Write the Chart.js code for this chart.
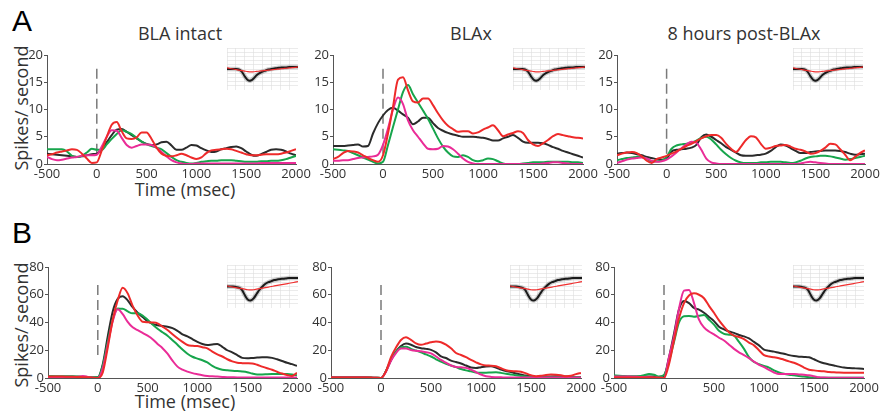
<!DOCTYPE html>
<html>
<head>
<meta charset="utf-8">
<script src="https://cdn.jsdelivr.net/npm/chart.js@4.4.1/dist/chart.umd.min.js"></script>
<style>
body { margin: 0; background: #fff; width: 881px; height: 411px; position: relative; overflow: hidden; font-family: "Open Sans", sans-serif; color: #333; }
canvas { position: absolute; }
.t { position: absolute; white-space: nowrap; line-height: 1; text-align: center; }
.letter { position: absolute; font: 30px "Liberation Sans", Arial, sans-serif; color: #000; line-height: 1; }
</style>
</head>
<body>
<div class="letter" style="left:12px;top:6px">A</div>
<div class="letter" style="left:12px;top:218px">B</div>

<div class="t" style="left:80px;top:24px;width:200px;font-size:18px">BLA intact</div>
<div class="t" style="left:371px;top:24px;width:200px;font-size:18px">BLAx</div>
<div class="t" style="left:644px;top:24px;width:200px;font-size:18px">8 hours post-BLAx</div>

<div class="t" style="left:-59px;top:99px;width:160px;height:18px;font-size:18px;transform:rotate(-90deg)">Spikes/ second</div>
<div class="t" style="left:-59px;top:316px;width:160px;height:18px;font-size:18px;transform:rotate(-90deg)">Spikes/ second</div>

<div class="t" style="left:85px;top:180px;width:200px;font-size:18px">Time (msec)</div>
<div class="t" style="left:85px;top:392px;width:200px;font-size:18px">Time (msec)</div>

<script>
// time bins (msec)
const times = [-500,-450,-400,-350,-300,-250,-200,-150,-100,-50,
  0,50,100,150,200,250,300,350,400,450,
  500,550,600,650,700,750,800,850,900,950,
  1000,1050,1100,1150,1200,1250,1300,1350,1400,1450,
  1500,1550,1600,1650,1700,1750,1800,1850,1900,1950,2000];

// A - BLA intact
const a1Black = [1.9,1.8,1.7,1.6,1.5,1.4,1.3,1.4,1.6,1.8, 1.9,2.8,4.0,5.3,6.3,6.4,5.9,5.3,4.7,4.1, 3.7,3.5,3.6,4.0,4.1,3.4,2.6,2.6,3.0,3.5, 3.4,2.9,2.5,2.2,2.3,2.7,2.9,3.1,3.2,2.9, 2.3,1.7,1.5,1.8,2.2,2.6,2.7,2.6,2.3,1.9, 1.6];
const a1Red = [1.6,1.8,2.1,2.3,2.5,2.7,2.6,1.9,1.0,0.2, 0.3,2.5,5.0,7.2,7.7,6.0,4.7,4.6,4.9,5.8, 5.8,4.6,3.0,1.9,1.5,1.4,1.6,1.9,1.6,1.2, 0.9,1.2,2.0,2.5,2.6,2.7,2.8,2.7,2.4,2.1, 1.8,1.6,1.6,1.7,1.8,1.8,1.8,1.9,2.1,2.4, 2.7];
const a1Green = [2.7,2.7,2.7,2.7,2.3,1.5,1.3,1.5,2.1,2.8, 2.6,2.6,3.6,4.6,5.5,6.2,5.9,5.5,4.8,4.1, 3.6,3.3,3.0,2.7,2.0,1.3,0.7,0.4,0.2,0.1, 0.2,0.4,0.5,0.6,0.6,0.7,0.7,0.7,0.6,0.5, 0.4,0.4,0.4,0.5,0.5,0.6,0.6,0.7,0.9,1.2, 1.5];
const a1Magenta = [1.3,0.9,0.7,0.8,1.0,1.2,1.3,1.5,1.6,1.6, 1.7,3.2,5.0,6.2,6.1,4.8,3.5,3.0,3.3,3.6, 3.6,3.5,3.0,2.2,1.4,0.7,0.3,0.1,0.0,0.0, 0.1,0.1,0.1,0.1,0.1,0.1,0.1,0.1,0.1,0.1, 0.1,0.1,0.1,0.2,0.2,0.2,0.2,0.2,0.2,0.2, 0.2];

// A - BLAx
const a2Black = [3.3,3.3,3.3,3.4,3.5,3.6,3.2,3.3,5.6,7.5, 8.9,9.9,10.3,9.8,9.1,8.5,7.3,7.8,8.5,8.5, 7.5,6.6,6.1,5.7,5.4,5.2,5.0,5.0,5.0,4.9, 4.8,4.6,4.3,4.3,4.7,5.0,5.3,4.8,4.1,3.9, 3.9,3.9,3.8,3.5,3.1,2.8,2.4,2.1,1.8,1.5, 1.2];
const a2Red = [0.9,1.3,2.0,2.4,2.3,2.1,1.6,1.1,0.7,0.4, 1.6,5.6,10.5,15.5,15.9,13.5,11.5,11.3,12.0,12.0, 10.8,9.3,8.0,7.0,6.4,5.9,6.0,6.0,5.6,5.8, 6.3,6.7,7.1,6.2,5.1,5.4,5.7,6.0,5.7,4.4, 3.6,3.3,3.8,4.4,5.1,5.5,5.3,5.1,4.9,4.8, 4.7];
const a2Green = [2.7,2.6,2.5,2.4,2.0,1.6,1.2,0.8,0.4,0.1, 0.4,3.5,6.8,10.0,13.2,14.5,12.8,11.3,9.8,8.3, 6.5,4.7,3.2,2.1,1.4,1.3,1.6,1.3,0.7,0.5, 0.7,1.0,0.9,0.5,0.1,0.0,0.0,0.0,0.1,0.2, 0.3,0.3,0.3,0.4,0.4,0.4,0.4,0.4,0.3,0.3, 0.2];
const a2Magenta = [0.6,0.6,0.7,0.7,0.9,1.1,1.2,1.3,1.4,1.7, 3.5,6.5,10.0,12.2,11.0,8.0,6.2,5.0,3.8,2.8, 2.7,2.8,3.3,3.2,2.7,1.9,1.0,0.4,0.1,0.0, 0.0,0.0,0.0,0.0,0.0,0.0,0.0,0.0,0.0,0.0, 0.0,0.0,0.1,0.2,0.3,0.3,0.2,0.1,0.0,0.0, 0.0];

// A - 8 hours post-BLAx
const a3Black = [1.9,2.0,2.1,2.0,1.8,1.6,1.3,1.1,0.9,0.8, 1.0,2.3,2.6,2.7,2.8,3.0,3.5,4.9,5.4,5.0, 4.4,3.8,3.1,2.6,2.1,1.6,1.5,1.5,1.6,1.7, 1.9,2.4,3.1,3.6,3.4,2.9,2.4,2.0,2.0,2.2, 2.3,2.4,2.5,2.5,2.5,2.4,2.2,1.9,1.7,1.8, 1.9];
const a3Red = [1.6,1.9,2.1,2.2,2.0,1.4,0.6,0.2,0.9,1.2, 1.5,1.9,2.3,2.8,3.3,3.7,4.2,4.7,5.1,5.3, 5.3,4.8,3.7,2.8,2.2,3.2,4.4,5.1,4.9,3.7, 2.8,3.0,3.3,3.4,3.5,3.2,2.8,2.6,2.3,1.9, 2.0,2.4,3.0,3.7,3.6,2.7,1.7,0.7,1.3,2.0, 2.5];
const a3Green = [0.7,0.9,1.1,1.2,1.3,1.3,1.0,0.4,0.5,0.6, 1.3,2.8,3.4,3.6,3.7,3.9,4.3,4.8,5.0,4.5, 3.6,2.6,1.8,1.1,0.6,0.3,0.2,0.2,0.2,0.3, 0.3,0.4,0.4,0.4,0.3,0.2,0.3,0.6,1.0,1.3, 1.4,1.5,1.5,1.4,1.2,1.0,0.8,0.9,1.1,1.3, 1.5];
const a3Magenta = [0.2,0.5,0.8,1.0,1.1,1.2,1.0,0.6,0.4,0.5, 0.8,1.4,2.1,2.9,3.6,4.1,3.9,2.6,1.0,0.3, 0.1,0.0,0.0,0.0,0.0,0.0,0.0,0.0,0.0,0.0, 0.0,0.0,0.0,0.0,0.0,0.0,0.0,0.1,0.3,0.4, 0.3,0.2,0.1,0.0,0.0,0.0,0.0,0.0,0.0,0.0, 0.0];

// B - BLA intact
const b1Black = [1.0,1.0,1.0,1.0,1.0,1.0,0.9,0.8,0.6,0.4, 0.5,10,30,48,57,59,56,51,47,44, 41,39,38,37.5,37,36,34,31.5,30,28, 26,24.5,23.8,24.2,24.5,22.5,20,18.5,16.5,14.5, 14.2,14.4,14.7,15,15,14.5,13.5,12.3,11,10, 8.7];
const b1Red = [1.0,1.0,1.0,1.0,0.9,0.9,0.8,0.6,0.5,0.2, 0,4,22,42,56,65,61,52,45,40.5, 40.2,40,39.4,37,34.6,31.5,28.6,26,23.8,23.2, 23,22.2,21.4,19,17,15.5,13.5,12,11,10.7, 10.6,10.5,9.5,8.2,7,5.9,4.5,3.2,2.2,1.4, 3.8];
const b1Green = [1.2,1.2,1.1,1.1,1.0,1.0,1.0,0.9,0.8,0.6, 0.5,9,26,42,50,50,48,46.6,46.6,45, 42,38.5,35.5,33,30.5,27.2,24,20.5,17.5,15.3, 14,12.8,11.2,8.8,7,6,5.5,5.2,5,4.7, 4.2,3.2,2.6,2.6,2.7,2.8,2.9,2.9,2.9,2.6, 1.9];
const b1Magenta = [0.5,0.5,0.5,0.5,0.6,0.7,0.9,1.4,0.8,0.2, 0,7,24,41,49.5,46,40.5,36.5,34.5,32.5, 30.5,28,24.5,21.5,17.5,12.5,8.2,6,4.6,3.5, 2.7,2,1.5,1.2,1.0,0.8,0.6,0.5,0.4,0.4, 0.3,0.3,0.3,0.3,0.3,0.3,0.3,0.3,0.3,0.3, 0.3];

// B - BLAx
const b2Black = [0.5,0.5,0.5,0.5,0.5,0.5,0.5,0.5,0.4,0.2, 0,5,13,19,23,24.8,24,22.3,21.5,21, 20.3,18.5,15.5,14.4,12.5,11.5,10.5,9,7.5,7.2, 7.8,8.3,8.4,7.5,6,5,4.3,3.2,2.5,1.8, 1.2,0.8,0.7,0.9,1.1,1.2,1.2,1.0,0.8,0.6, 0.5];
const b2Red = [0.3,0.3,0.3,0.4,0.4,0.4,0.4,0.4,0.3,0.2, 0,5,15,22,27.4,29.3,27.5,25,23.9,24.8, 25.7,26.3,25.8,24,21.4,18,16.6,15,13,11.3, 9.8,9,8.9,8.5,7,5.6,5,4.9,4.5,3.3, 2,1.3,1.6,2.2,2.5,2.4,2,1.3,1.6,2.8, 3.6];
const b2Green = [0.4,0.4,0.4,0.4,0.4,0.4,0.4,0.4,0.3,0.2, 0,5,13,19,22,22.5,21,19.8,18.5,17, 15.5,13.5,11.8,10.2,9,7.8,6.5,5.5,4.8,4, 3.8,3.8,4,4.1,3.7,3,2.5,2,1.5,1.1, 0.9,0.6,0.6,0.6,0.6,0.6,0.6,0.6,0.6,0.6, 0.6];
const b2Magenta = [0.3,0.3,0.3,0.3,0.3,0.3,0.3,0.3,0.2,0.1, 0,4.5,12.5,18,21.2,21.2,20.2,19.6,19.2,18.6, 17.8,15.5,13,11,9,8,7.7,7.3,6,4.3, 2.5,1.3,0.8,0.6,0.5,0.3,0.3,0.3,0.3,0.3, 0.3,0.3,0.3,0.3,0.3,0.3,0.3,0.3,0.3,0.3, 0.3];

// B - 8 hours post-BLAx
const b3Black = [1,1,1,1,1,1,1,1,1,0.8, 1.5,15,32,49.5,55.5,54,50.5,49.3,47,44, 41,37,35,33.5,32.5,31,30,28.5,26,23.5, 20.5,19.7,19,18.2,17.5,16.5,15.8,15.4,15.2,14.9, 13.5,11.8,10.6,9.8,9,8.2,7.5,7.2,7,6.8, 6.5];
const b3Red = [0.3,0.3,0.3,0.3,0.3,0.3,0.3,0.3,0.3,0.2, 0,10,27,43,54,59.5,61,60,57.5,52, 47,41.5,37,33,30.5,29.5,28,25.5,23.5,20, 16.5,15.5,15,14.3,13.2,12,11,9.5,7.5,6, 5.5,5,4.8,4.4,4.1,3.9,3.8,3.8,3.7,3.8, 3.8];
const b3Green = [1.9,1.7,1.4,1.1,1.0,1.3,2.0,2.8,2.3,1.0, 2.2,12,26,40,44.5,44.7,44.2,44.8,45.4,42, 38.5,34,31.8,31.2,30.5,26,21,15,11.5,10, 8.7,7.5,5.5,4,3,2.4,2,1.5,1,0.6, 0.3,0.1,0.1,0.1,0.1,0.1,0.1,0.1,0.1,0.1, 0.1];
const b3Magenta = [1,1,1,1,0.9,0.8,0.7,0.6,0.4,0.2, 0,15,30,50,63,63.5,54,42,36.5,33.5, 31.5,29,27,24,21,18.5,16.5,14.3,11.8,9.5, 7.8,5.8,4,2.9,2.9,2.9,2.9,2.6,2.3,2.0, 1.3,0.5,0.3,0.2,0.2,0.2,0.2,0.2,0.2,0.2, 0.2];

// dashed stimulus marker at t = 0 (top, bottom)
const stimA = [17.5, 1.3];
const stimB = [67, 15];

// waveform insets
const insetSamples = [0,1,2,3,4,5,6,7,8,9,10,11,12,13,14,15,16,17,18,19,20,21,22,23,24];
const insetBlackA = [0,0,0,0,-0.05,-0.25,-0.7,-1.05,-1.1,-0.9,-0.6,-0.4,-0.25,-0.15,-0.05,0,0.05,0.1,0.12,0.15,0.15,0.18,0.18,0.2,0.2];
const insetRedA = [0.1,0.05,0,-0.05,-0.1,-0.15,-0.2,-0.25,-0.28,-0.26,-0.23,-0.2,-0.17,-0.14,-0.11,-0.08,-0.05,-0.02,0.01,0.04,0.07,0.1,0.13,0.16,0.2];
const insetBlackB = [0,0,0,-0.05,-0.1,-0.3,-0.8,-1.2,-1.3,-1.1,-0.7,-0.3,0,0.25,0.4,0.5,0.6,0.65,0.7,0.72,0.75,0.78,0.8,0.8,0.8];
const insetRedB = [0.05,0,-0.05,-0.1,-0.15,-0.2,-0.25,-0.3,-0.32,-0.3,-0.25,-0.2,-0.15,-0.1,-0.05,0,0.05,0.1,0.15,0.2,0.25,0.3,0.35,0.4,0.45];

const colBlack = '#2b2b2b', colRed = '#ee2a2a', colGreen = '#17a54c', colMagenta = '#ea2c97';
const tickFont = { family: 'Open Sans', size: 13 };

function pts(xs, ys) { return xs.map((x, i) => ({ x: x, y: ys[i] })); }

function addCanvas(left, top, w, h) {
    const c = document.createElement('canvas');
    c.width = w; c.height = h;
    c.style.left = left + 'px'; c.style.top = top + 'px';
    c.style.width = w + 'px'; c.style.height = h + 'px';
    document.body.appendChild(c);
    return c;
}

function panel(area, yMax, yStep, series, stim) {
    const wy = 36, padT = 10, padR = 22, hx = 24;
    const w = area.right - area.left + wy + padR;
    const h = area.bottom - area.top + padT + hx;
    const c = addCanvas(area.left - wy, area.top - padT, w, h);
    const line = (data, color) => ({ data: pts(times, data), borderColor: color, borderWidth: 2, cubicInterpolationMode: 'monotone' });
    new Chart(c, {
        type: 'line',
        data: {
            datasets: [
                line(series[1], colRed),
                line(series[3], colMagenta),
                line(series[2], colGreen),
                line(series[0], colBlack),
                { data: [{ x: 0, y: stim[0] }, { x: 0, y: stim[1] }], borderColor: '#7a7a7a', borderWidth: 1.5, borderDash: [10, 5], tension: 0 }
            ]
        },
        options: {
            responsive: false,
            animation: false,
            layout: { padding: { top: padT, right: padR, left: 0, bottom: 0 } },
            plugins: { legend: { display: false }, tooltip: { enabled: false } },
            elements: { point: { radius: 0 } },
            scales: {
                x: {
                    type: 'linear', min: -500, max: 2000,
                    ticks: { stepSize: 500, font: tickFont, color: '#333', padding: 2, maxRotation: 0, callback: v => String(v) },
                    grid: { display: false, drawTicks: false },
                    border: { color: '#555', width: 1 },
                    afterFit: s => { s.height = hx; }
                },
                y: {
                    min: 0, max: yMax,
                    ticks: { stepSize: yStep, font: tickFont, color: '#333', padding: 1, callback: v => String(v) },
                    grid: { drawOnChartArea: false, tickLength: 3, color: '#555' },
                    border: { color: '#555', width: 1 },
                    afterFit: s => { s.width = wy; }
                }
            }
        }
    });
}

function inset(box, black, red) {
    const c = addCanvas(box.left, box.top, box.w, box.h);
    c.style.zIndex = 2;
    new Chart(c, {
        type: 'line',
        data: {
            datasets: [
                { data: pts(insetSamples, red), borderColor: '#f03030', borderWidth: 1.2, tension: 0.3 },
                { data: pts(insetSamples, black), borderColor: '#1a1a1a', borderWidth: 2, tension: 0.3 },
                { data: pts(insetSamples, black), borderColor: 'rgba(90,90,90,0.3)', borderWidth: 4.5, tension: 0.3 }
            ]
        },
        options: {
            responsive: false,
            animation: false,
            layout: { padding: 0 },
            plugins: { legend: { display: false }, tooltip: { enabled: false } },
            elements: { point: { radius: 0 } },
            scales: {
                x: { type: 'linear', min: 0, max: 24, ticks: { display: false, stepSize: 3 }, grid: { color: '#dedede', lineWidth: 0.6, drawTicks: false }, border: { display: false } },
                y: { min: -2, max: 2, ticks: { display: false, stepSize: 0.4 }, grid: { color: '#dedede', lineWidth: 0.6, drawTicks: false }, border: { display: false } }
            }
        }
    });
}

panel({ left: 47, right: 296, top: 55, bottom: 164 }, 20, 5, [a1Black, a1Red, a1Green, a1Magenta], stimA);
panel({ left: 333, right: 583, top: 55, bottom: 164 }, 20, 5, [a2Black, a2Red, a2Green, a2Magenta], stimA);
panel({ left: 617, right: 865, top: 55, bottom: 164 }, 20, 5, [a3Black, a3Red, a3Green, a3Magenta], stimA);
panel({ left: 48, right: 297, top: 267, bottom: 378 }, 80, 20, [b1Black, b1Red, b1Green, b1Magenta], stimB);
panel({ left: 331, right: 581, top: 267, bottom: 378 }, 80, 20, [b2Black, b2Red, b2Green, b2Magenta], stimB);
panel({ left: 614, right: 864, top: 267, bottom: 378 }, 80, 20, [b3Black, b3Red, b3Green, b3Magenta], stimB);

inset({ left: 227, top: 48, w: 71, h: 42 }, insetBlackA, insetRedA);
inset({ left: 513, top: 48, w: 72, h: 42 }, insetBlackA, insetRedA);
inset({ left: 793, top: 48, w: 70, h: 42 }, insetBlackA, insetRedA);
inset({ left: 227, top: 265, w: 71, h: 43 }, insetBlackB, insetRedB);
inset({ left: 510, top: 265, w: 72, h: 43 }, insetBlackB, insetRedB);
inset({ left: 793, top: 265, w: 71, h: 43 }, insetBlackB, insetRedB);
</script>
</body>
</html>
